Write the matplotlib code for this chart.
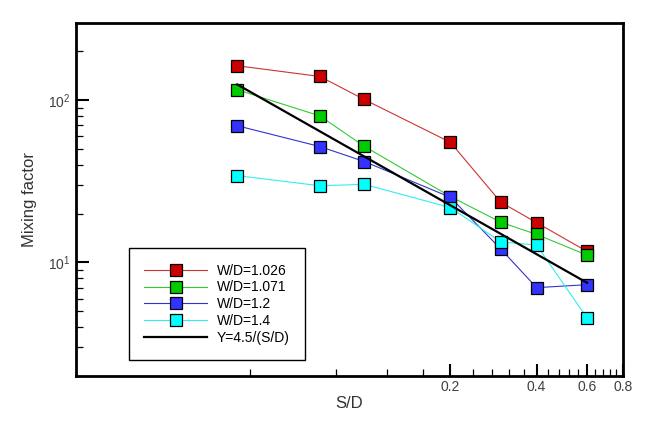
import numpy as np
import matplotlib
matplotlib.use('Agg')
import matplotlib.pyplot as plt
from matplotlib.ticker import FixedLocator, NullFormatter

plt.rcParams['font.family'] = ['Liberation Sans', 'DejaVu Sans']
plt.rcParams['mathtext.fontset'] = 'custom'
plt.rcParams['mathtext.rm'] = 'Liberation Sans'

# S/D values
sd = [0.036, 0.07, 0.1, 0.2, 0.3, 0.4, 0.6]
# mixing factor for each W/D
wd1026 = [163, 140, 101, 55, 23.5, 17.6, 11.7]
wd1071 = [116, 80, 52, 25.5, 17.7, 14.9, 11.1]
wd12 = [69.6, 51.8, 41.9, 25.2, 12.1, 7.0, 7.3]
wd14 = [34.3, 29.7, 30.3, 21.8, 13.4, 12.8, 4.56]
# Y=4.5/(S/D) line ends
fit_x = [0.036, 0.6]
fit_y = [125, 7.5]

x_major = [0.2, 0.4, 0.6, 0.8]
x_labels = ['0.2', '0.4', '0.6', '0.8']
y_major = [10, 100]
y_labels = ['$10^1$', '$10^2$']

fig = plt.figure(figsize=(6.58, 4.21), dpi=100)
ax = fig.add_axes([0.1155, 0.107, 0.831, 0.839])

series = [
    (wd1026, '#cc0000', '#cc3333', 'W/D=1.026'),
    (wd1071, '#00cc00', '#33cc33', 'W/D=1.071'),
    (wd12, '#3333ff', '#3333cc', 'W/D=1.2'),
    (wd14, '#00ffff', '#33eeee', 'W/D=1.4'),
]
for ys, fc, lc, lab in series:
    ax.plot(sd, ys, color=lc, lw=0.8, marker='s', ms=9.2,
            mfc=fc, mec='black', mew=0.9, label=lab)
ax.plot(fit_x, fit_y, color='black', lw=1.6, label='Y=4.5/(S/D)')

ax.set_xscale('log')
ax.set_yscale('log')
ax.set_xlim(0.00985, 0.8)
ax.set_ylim(2, 300)

ax.xaxis.set_major_locator(FixedLocator(x_major))
ax.set_xticklabels(x_labels)
minors = [m for m in np.arange(0.04, 0.79, 0.04) if min(abs(m - v) for v in x_major) > 1e-6]
ax.xaxis.set_minor_locator(FixedLocator(minors))
ax.xaxis.set_minor_formatter(NullFormatter())

ax.yaxis.set_major_locator(FixedLocator(y_major))
ax.set_yticklabels(y_labels)
ym = list(range(2, 10)) + list(range(20, 100, 10)) + [200]
ax.yaxis.set_minor_locator(FixedLocator(ym))
ax.yaxis.set_minor_formatter(NullFormatter())

ax.tick_params(which='both', direction='in', colors='black', labelcolor='#404040', labelsize=10)
ax.tick_params(which='major', length=9, width=1.5)
ax.tick_params(which='minor', length=5, width=0.9)
ax.tick_params(axis='x', which='major', pad=3)
ax.tick_params(axis='y', which='major', pad=4)

for s in ax.spines.values():
    s.set_linewidth(2)

ax.set_xlabel('S/D', fontsize=12, color='#333333', labelpad=1)
ax.set_ylabel('Mixing factor', fontsize=12, color='#333333', labelpad=8)

leg = ax.legend(loc='lower left', bbox_to_anchor=(0.097, 0.045), fontsize=10,
                handlelength=4.5, handletextpad=0.7, labelspacing=0.2,
                borderpad=1.1, borderaxespad=0, numpoints=1, fancybox=False,
                framealpha=1, edgecolor='black')
leg.get_frame().set_linewidth(1)

fig.savefig('out.png', dpi=100)
